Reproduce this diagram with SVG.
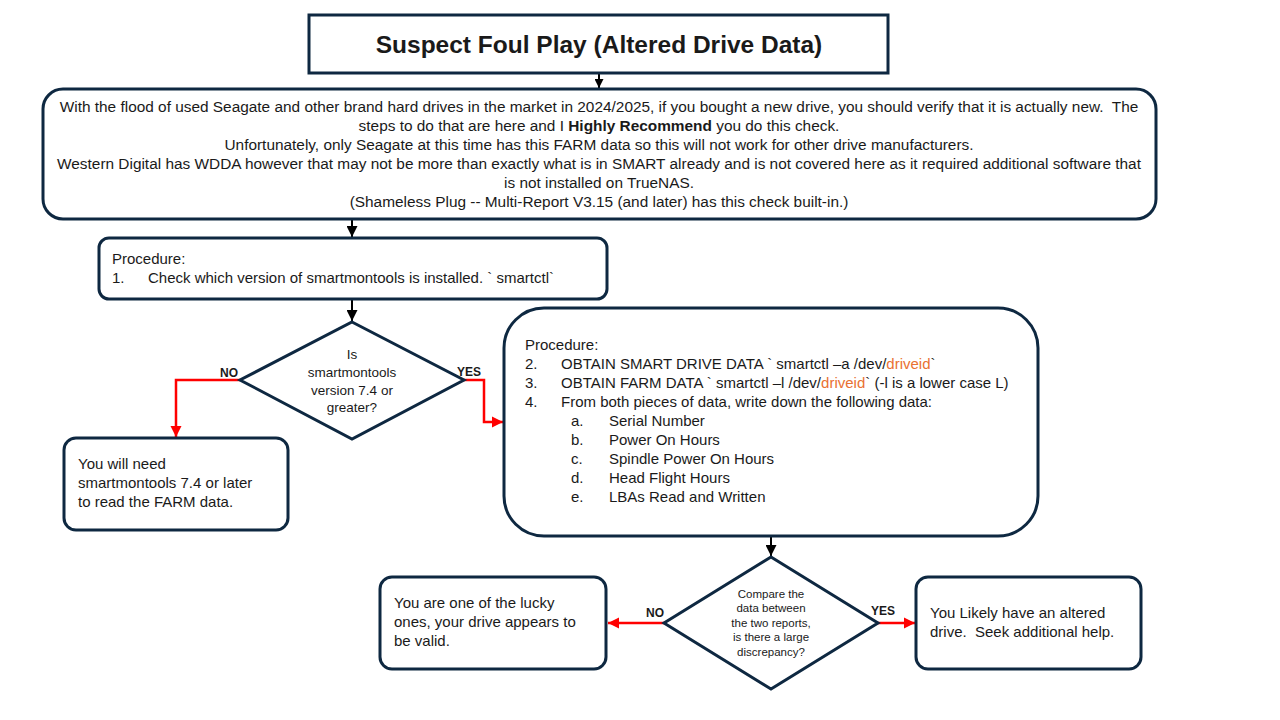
<svg xmlns="http://www.w3.org/2000/svg" width="1280" height="720" viewBox="0 0 1280 720">
<defs>
<style>
.box{fill:#fff;stroke:#0E2841;stroke-width:3}
.t{font-family:"Liberation Sans",Arial,sans-serif;font-size:15px;fill:#1a1a1a;white-space:pre}
.m{font-size:15.4px}
.c{text-anchor:middle}
.s{font-size:13.5px}
.xs{font-size:11.5px}
.lbl{font-family:"Liberation Sans",Arial,sans-serif;font-size:12px;font-weight:bold;fill:#1a1a1a}
.blk{stroke:#000;stroke-width:2;fill:none}
.red{stroke:#FF0000;stroke-width:2.5;fill:none}
.or{fill:#E97132}
</style>
<marker id="ab" viewBox="0 0 10 10" refX="10" refY="5" markerWidth="5.5" markerHeight="5.5" orient="auto" markerUnits="strokeWidth"><path d="M0,0 L10,5 L0,10 z" fill="#000"/></marker>
<marker id="abs" viewBox="0 0 10 10" refX="10" refY="5" markerWidth="4.5" markerHeight="4.5" orient="auto" markerUnits="strokeWidth"><path d="M0,0 L10,5 L0,10 z" fill="#000"/></marker>
<marker id="ar" viewBox="0 0 10 10" refX="10" refY="5" markerWidth="4.5" markerHeight="4.5" orient="auto" markerUnits="strokeWidth"><path d="M0,0 L10,5 L0,10 z" fill="#FF0000"/></marker>
</defs>
<rect width="1280" height="720" fill="#fff"/>

<g id="connectors">
<line class="blk" x1="599" y1="73" x2="599" y2="88" marker-end="url(#abs)"/>
<line class="blk" x1="352" y1="219" x2="352" y2="237" marker-end="url(#ab)"/>
<line class="blk" x1="352" y1="299" x2="352" y2="321" marker-end="url(#ab)"/>
<line class="blk" x1="771" y1="536" x2="771" y2="556" marker-end="url(#ab)"/>
<polyline class="red" points="240,380 176,380 176,437" marker-end="url(#ar)"/>
<polyline class="red" points="464,380 484,380 484,422 503,422" marker-end="url(#ar)"/>
<line class="red" x1="664" y1="623" x2="608" y2="623" marker-end="url(#ar)"/>
<line class="red" x1="878" y1="623" x2="915" y2="623" marker-end="url(#ar)"/>
<text class="lbl" x="220" y="377">NO</text>
<text class="lbl" x="457" y="376">YES</text>
<text class="lbl" x="646" y="617">NO</text>
<text class="lbl" x="871" y="615">YES</text>
</g>

<g id="title">
<rect class="box" x="309" y="15" width="579" height="58"/>
<text class="t c" x="599" y="53" style="font-size:24.5px;font-weight:bold">Suspect Foul Play (Altered Drive Data)</text>
</g>

<g id="intro">
<rect class="box" x="43" y="89" width="1113" height="130" rx="20"/>
<text class="t c m" x="599" y="112">With the flood of used Seagate and other brand hard drives in the market in 2024/2025, if you bought a new drive, you should verify that it is actually new.  The</text>
<text class="t c m" x="599" y="131">steps to do that are here and I <tspan font-weight="bold">Highly Recommend</tspan> you do this check.</text>
<text class="t c m" x="599" y="150">Unfortunately, only Seagate at this time has this FARM data so this will not work for other drive manufacturers.</text>
<text class="t c m" x="599" y="169">Western Digital has WDDA however that may not be more than exactly what is in SMART already and is not covered here as it required additional software that</text>
<text class="t c m" x="599" y="188">is not installed on TrueNAS.</text>
<text class="t c m" x="599" y="207">(Shameless Plug -- Multi-Report V3.15 (and later) has this check built-in.)</text>
</g>

<g id="proc1">
<rect class="box" x="99" y="238" width="508" height="61" rx="10"/>
<text class="t" x="112" y="264">Procedure:</text>
<text class="t" x="112" y="283">1.</text>
<text class="t" x="148" y="283">Check which version of smartmontools is installed. ` smartctl`</text>
</g>

<g id="decision1">
<polygon class="box" points="352,322 464,380 352,439 240,380"/>
<text class="t c s" x="352" y="359">Is</text>
<text class="t c s" x="352" y="377">smartmontools</text>
<text class="t c s" x="352" y="395">version 7.4 or</text>
<text class="t c s" x="352" y="412">greater?</text>
</g>

<g id="need">
<rect class="box" x="64" y="438" width="224" height="92" rx="12"/>
<text class="t" x="78" y="469">You will need</text>
<text class="t" x="78" y="488">smartmontools 7.4 or later</text>
<text class="t" x="78" y="507">to read the FARM data.</text>
</g>

<g id="proc2">
<rect class="box" x="504" y="308" width="534" height="228" rx="40"/>
<text class="t" x="525" y="350">Procedure:</text>
<text class="t" x="525" y="369">2.</text>
<text class="t" x="561" y="369">OBTAIN SMART DRIVE DATA ` smartctl –a /dev/<tspan class="or">driveid</tspan>`</text>
<text class="t" x="525" y="388">3.</text>
<text class="t" x="561" y="388">OBTAIN FARM DATA ` smartctl –l /dev/<tspan class="or">driveid</tspan>` (-l is a lower case L)</text>
<text class="t" x="525" y="407">4.</text>
<text class="t" x="561" y="407">From both pieces of data, write down the following data:</text>
<text class="t" x="571" y="426">a.</text>
<text class="t" x="609" y="426">Serial Number</text>
<text class="t" x="571" y="445">b.</text>
<text class="t" x="609" y="445">Power On Hours</text>
<text class="t" x="571" y="464">c.</text>
<text class="t" x="609" y="464">Spindle Power On Hours</text>
<text class="t" x="571" y="483">d.</text>
<text class="t" x="609" y="483">Head Flight Hours</text>
<text class="t" x="571" y="502">e.</text>
<text class="t" x="609" y="502">LBAs Read and Written</text>
</g>

<g id="decision2">
<polygon class="box" points="771,557 878,623 771,689 664,623"/>
<text class="t c xs" x="771" y="598">Compare the</text>
<text class="t c xs" x="771" y="612">data between</text>
<text class="t c xs" x="771" y="627">the two reports,</text>
<text class="t c xs" x="771" y="641">is there a large</text>
<text class="t c xs" x="771" y="656">discrepancy?</text>
</g>

<g id="lucky">
<rect class="box" x="380" y="577" width="226" height="92" rx="12"/>
<text class="t" x="394" y="608">You are one of the lucky</text>
<text class="t" x="394" y="627">ones, your drive appears to</text>
<text class="t" x="394" y="646">be valid.</text>
</g>

<g id="altered">
<rect class="box" x="916" y="577" width="225" height="92" rx="12"/>
<text class="t" x="930" y="618">You Likely have an altered</text>
<text class="t" x="930" y="637">drive.  Seek additional help.</text>
</g>
</svg>
